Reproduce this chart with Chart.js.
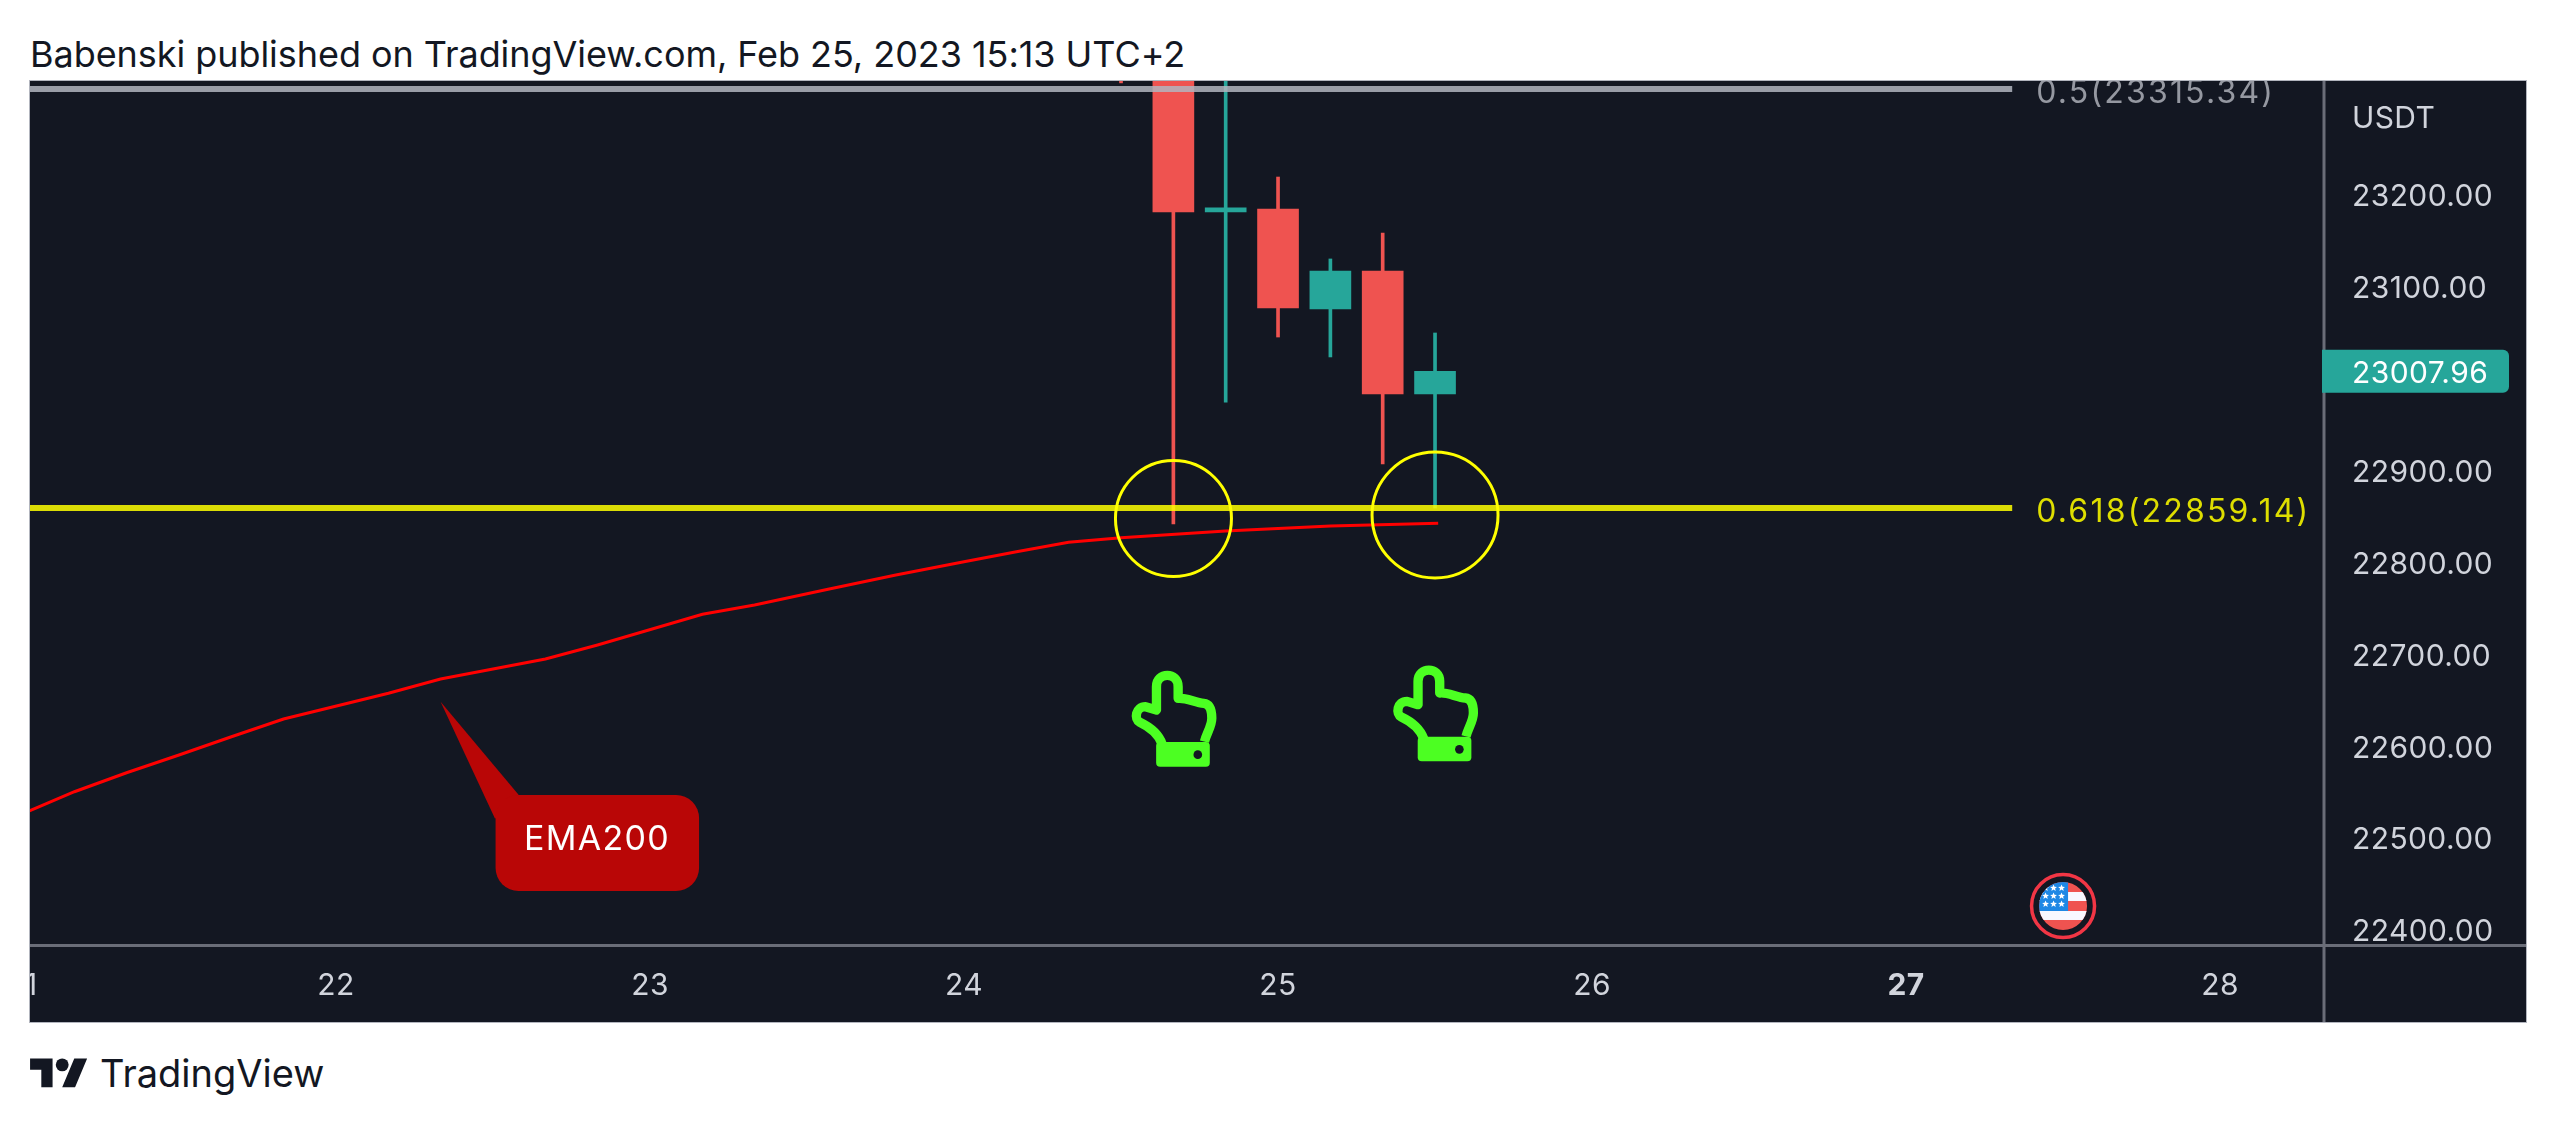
<!DOCTYPE html>
<html>
<head>
<meta charset="utf-8">
<title>Babenski published on TradingView.com</title>
<script src="https://cdn.jsdelivr.net/npm/chart.js@4/dist/chart.umd.min.js"></script>
<style>
  html, body { margin: 0; padding: 0; background: #fff; width: 2556px; height: 1128px; overflow: hidden; }
  #title { position: absolute; left: 30px; top: 31px; font: 36px/46px Inter, sans-serif; letter-spacing: -0.05px; color: #131722; white-space: nowrap; }
  #panel { position: absolute; left: 30px; top: 81px; width: 2496px; height: 941px; background: #131722; box-shadow: 0 0 0 1px #b2b5be; }
  #logo { position: absolute; left: 30px; top: 1052px; }
  #brand { position: absolute; left: 100px; top: 1048px; font: 38px/50px Inter, sans-serif; color: #131722; }
</style>
</head>
<body>
<div id="title">Babenski published on TradingView.com, Feb 25, 2023 15:13 UTC+2</div>
<div id="panel"><canvas id="chart" width="2496" height="941"></canvas></div>
<svg id="logo" width="58" height="45" viewBox="0 0 36 28"><path fill="#131722" d="M14 22H7V11H0V4h14v18zM28 22h-8l7.5-18h8L28 22z"/><circle fill="#131722" cx="20" cy="8" r="4"/></svg>
<div id="brand">TradingView</div>
<script>
// Candles (x in days of Feb 2023, one every 4h)
const candleDays = [24.5, 24.6667, 24.8333, 25, 25.1667, 25.3333, 25.5];
const candleOpen = [23500, 23420, 23181.4, 23184.7, 23075.8, 23117, 22983.3];
const candleClose = [23420, 23181.4, 23186, 23076.9, 23117.2, 22983.3, 23007.96];
const candleHigh = [23560, 23470, 23400, 23219.5, 23130.3, 23158.6, 23049.7];
const candleLow = [23322, 22841.7, 22974.5, 23045.3, 23023.6, 22907, 22859.1];

// EMA200
const emaDays = [21, 21.167, 21.333, 21.5, 21.667, 21.833, 22.167, 22.333, 22.667, 22.833, 23.167, 23.333, 23.567, 23.783, 24, 24.167, 24.333, 24.5, 24.833, 25.167, 25.51];
const emaValues = [22526, 22550.2, 22570.9, 22590.2, 22610.1, 22629.4, 22657.4, 22672.9, 22694.7, 22710, 22743.4, 22753.5, 22770.6, 22786.2, 22800.6, 22811.5, 22821.9, 22826.8, 22834.1, 22839.5, 22842.4];

// Fibonacci levels
const fibNames = ['0.5', '0.618'];
const fibValues = [23315.34, 22859.14];
const fibEndDay = 27.338;

// Axes
const dayTicks = [21, 22, 23, 24, 25, 26, 27, 28];
const priceTicks = [23200, 23100, 23000, 22900, 22800, 22700, 22600, 22500, 22400];
const lastPrice = 23007.96;
const xMin = 21.0255, xMax = 28.331;
const yMin = 22383.33, yMax = 23324.06;

// Drawings on the chart
const circleDays = [24.667, 25.5];
const circlePrices = [22847.7, 22851.5];
const handDays = [24.667, 25.5];
const handPrices = [22628.3, 22634.1];
const calloutTip = [22.333, 22648.2];
const flagSpot = [27.5, 22425.8];

const RED = '#ef5350';
const TEAL = '#26a69a';
const PANEL = '#131722';
const TEXT = '#d1d4dc';
const FONT = 'Inter, sans-serif';

function drawHand(ctx, x, y) {
  ctx.save();
  ctx.translate(x, y);
  ctx.scale(1 / 3, 1 / 3);
  ctx.translate(-219, -240);
  ctx.strokeStyle = '#4cff22';
  ctx.fillStyle = '#4cff22';
  ctx.lineWidth = 28;
  ctx.lineJoin = 'round';
  ctx.beginPath();
  ctx.moveTo(185, 312);
  ctx.bezierCurveTo(175, 285, 150, 262, 118, 247);
  ctx.bezierCurveTo(100, 238, 105, 200, 135, 200);
  ctx.lineTo(168, 210);
  ctx.lineTo(168, 140);
  ctx.bezierCurveTo(168, 95, 233, 95, 233, 140);
  ctx.lineTo(233, 175);
  ctx.bezierCurveTo(255, 172, 285, 188, 310, 190);
  ctx.bezierCurveTo(330, 192, 334, 215, 334, 235);
  ctx.bezierCurveTo(334, 260, 318, 280, 312, 305);
  ctx.stroke();
  ctx.beginPath();
  ctx.roundRect(167, 306, 161, 74, 12);
  ctx.fill();
  ctx.fillStyle = PANEL;
  ctx.beginPath();
  ctx.arc(292, 344, 13, 0, Math.PI * 2);
  ctx.fill();
  ctx.restore();
}

function drawStar(ctx, x, y, r) {
  ctx.beginPath();
  for (let i = 0; i < 10; i++) {
    const a = -Math.PI / 2 + i * Math.PI / 5;
    const d = i % 2 ? r * 0.45 : r;
    ctx.lineTo(x + Math.cos(a) * d, y + Math.sin(a) * d);
  }
  ctx.closePath();
  ctx.fill();
}

function drawFlag(ctx, x, y) {
  ctx.save();
  ctx.strokeStyle = '#f23645';
  ctx.lineWidth = 3.5;
  ctx.beginPath();
  ctx.arc(x, y, 31.5, 0, Math.PI * 2);
  ctx.stroke();
  ctx.beginPath();
  ctx.arc(x, y, 24, 0, Math.PI * 2);
  ctx.clip();
  ctx.fillStyle = RED;
  ctx.fillRect(x - 24, y - 24, 48, 48);
  ctx.fillStyle = '#f8f8ff';
  ctx.fillRect(x - 24, y - 14, 48, 9);
  ctx.fillRect(x - 24, y + 5, 48, 9);
  ctx.fillStyle = '#1e88e5';
  ctx.fillRect(x - 24, y - 24, 29, 29);
  ctx.fillStyle = '#fff';
  [-17.5, -9.5, -1.5].forEach(dx => {
    [-18, -10, -2].forEach(dy => drawStar(ctx, x + dx, y + dy, 3.6));
  });
  ctx.restore();
}

function drawCallout(ctx, x, y) {
  ctx.save();
  ctx.fillStyle = '#b90606';
  ctx.beginPath();
  ctx.moveTo(x, y);
  ctx.lineTo(x + 78, y + 93);
  ctx.lineTo(x + 54.5, y + 117);
  ctx.closePath();
  ctx.fill();
  ctx.beginPath();
  ctx.roundRect(x + 55, y + 93.3, 203.5, 96, 23);
  ctx.fill();
  ctx.fillStyle = '#fff';
  ctx.font = '34px ' + FONT;
  ctx.letterSpacing = '1.3px';
  ctx.textAlign = 'center';
  ctx.textBaseline = 'middle';
  ctx.fillText('EMA200', x + 156.5, y + 138);
  ctx.restore();
}

// Everything TradingView paints on top of the series and around the axes
const decorPlugin = {
  id: 'decor',
  beforeDraw(chart) {
    // tick labels are a touch wider than Inter and sit a bit lower
    chart.ctx.letterSpacing = '0.4px';
    chart.ctx.save();
    chart.ctx.translate(0, 2.5);
  },
  beforeDatasetsDraw(chart) {
    chart.ctx.restore();
  },
  afterDraw(chart) {
    const { ctx, chartArea, scales, width, height } = chart;
    const xs = scales.x, ys = scales.y;

    ctx.save();
    ctx.fillStyle = '#6a6d78';
    ctx.fillRect(chartArea.right - 1.5, 0, 3, height);
    ctx.fillRect(0, chartArea.bottom - 1, width, 3);

    ctx.textAlign = 'left';
    ctx.textBaseline = 'middle';

    // fib labels
    ctx.font = '32px ' + FONT;
    ctx.letterSpacing = '2.2px';
    const labelX = xs.getPixelForValue(fibEndDay) + 24;
    fibNames.forEach((name, i) => {
      ctx.fillStyle = i === 0 ? '#9598a1' : '#dede00';
      ctx.fillText(name + '(' + fibValues[i].toFixed(2) + ')', labelX, ys.getPixelForValue(fibValues[i]) + 4);
    });

    // currency and last price tag
    ctx.font = '30px ' + FONT;
    ctx.letterSpacing = '0.4px';
    const tickX = chartArea.right + 28;
    ctx.fillStyle = TEXT;
    ctx.fillText('USDT', tickX, 38);
    const tagY = ys.getPixelForValue(lastPrice);
    ctx.fillStyle = TEAL;
    ctx.beginPath();
    ctx.roundRect(chartArea.right - 2, tagY - 21.5, 187, 43, [0, 6, 6, 0]);
    ctx.fill();
    ctx.fillStyle = '#fff';
    ctx.fillText(lastPrice.toFixed(2), tickX, tagY + 2.5);
    ctx.restore();

    handDays.forEach((d, i) => drawHand(ctx, xs.getPixelForValue(d), ys.getPixelForValue(handPrices[i])));
    drawCallout(ctx, xs.getPixelForValue(calloutTip[0]), ys.getPixelForValue(calloutTip[1]));
    drawFlag(ctx, xs.getPixelForValue(flagSpot[0]), ys.getPixelForValue(flagSpot[1]));
  }
};

const candleColors = candleDays.map((d, i) => candleClose[i] >= candleOpen[i] ? TEAL : RED);

new Chart(document.getElementById('chart').getContext('2d'), {
  type: 'bar',
  data: {
    datasets: [
      {
        type: 'line',
        label: 'Circles',
        data: circleDays.map((d, i) => ({ x: d, y: circlePrices[i] })),
        showLine: false,
        pointRadius: [58, 63],
        pointBorderWidth: 3,
        pointBorderColor: '#ffff00',
        pointBackgroundColor: 'transparent',
        order: 0
      },
      {
        type: 'line',
        label: 'EMA200',
        data: emaDays.map((d, i) => ({ x: d, y: emaValues[i] })),
        borderColor: '#ff0000',
        borderWidth: 3,
        pointRadius: 0,
        tension: 0,
        order: 1
      },
      {
        type: 'line',
        label: '0.618',
        data: [{ x: xMin, y: fibValues[1] }, { x: fibEndDay, y: fibValues[1] }],
        borderColor: 'rgba(255, 255, 0, 0.85)',
        borderWidth: 6,
        pointRadius: 0,
        order: 2
      },
      {
        type: 'line',
        label: '0.5',
        data: [{ x: xMin, y: fibValues[0] }, { x: fibEndDay, y: fibValues[0] }],
        borderColor: 'rgba(178, 181, 190, 0.85)',
        borderWidth: 6,
        pointRadius: 0,
        order: 2
      },
      {
        label: 'Bodies',
        data: candleDays.map((d, i) => ({ x: d, y: [candleOpen[i], candleClose[i]] })),
        backgroundColor: candleColors,
        barThickness: 41,
        grouped: false,
        order: 3
      },
      {
        label: 'Wicks',
        data: candleDays.map((d, i) => ({ x: d, y: [candleLow[i], candleHigh[i]] })),
        backgroundColor: candleColors,
        barThickness: 3,
        grouped: false,
        order: 4
      }
    ]
  },
  options: {
    responsive: false,
    animation: false,
    events: [],
    layout: { padding: 0, autoPadding: false },
    plugins: { legend: { display: false }, tooltip: { enabled: false }, title: { display: false } },
    scales: {
      x: {
        type: 'linear',
        offset: false,
        min: xMin,
        max: xMax,
        grid: { display: false },
        border: { display: false },
        afterBuildTicks: scale => { scale.ticks = dayTicks.map(v => ({ value: v })); },
        afterFit: scale => { scale.height = 77; scale.paddingLeft = 0; scale.paddingRight = 0; },
        ticks: {
          autoSkip: false,
          maxRotation: 0,
          padding: 12,
          color: TEXT,
          font: ctx => ({ family: FONT, size: 30, weight: ctx.tick && ctx.tick.value === 27 ? '700' : '400' }),
          callback: v => String(v)
        }
      },
      y: {
        position: 'right',
        min: yMin,
        max: yMax,
        grid: { display: false },
        border: { display: false },
        afterBuildTicks: scale => { scale.ticks = priceTicks.map(v => ({ value: v })); },
        afterFit: scale => { scale.width = 202; scale.paddingTop = 0; scale.paddingBottom = 0; },
        ticks: {
          autoSkip: false,
          padding: 20,
          color: TEXT,
          font: { family: FONT, size: 30 },
          callback: v => v.toFixed(2)
        }
      }
    }
  },
  plugins: [decorPlugin]
});
</script>
</body>
</html>
